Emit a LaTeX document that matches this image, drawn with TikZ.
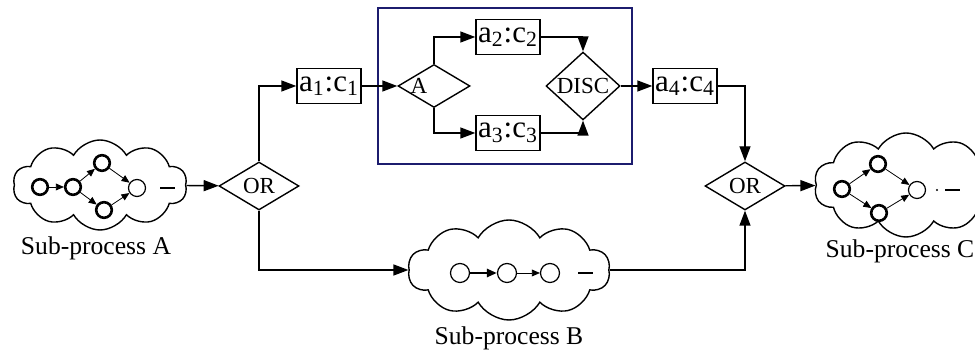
\documentclass[tikz,border=0pt]{standalone}
\usepackage{fontspec}
\setmainfont{Liberation Serif}
\usetikzlibrary{shapes.geometric,shapes.symbols,arrows.meta}
\definecolor{boxnavy}{RGB}{28,28,110}

\begin{document}
\begin{tikzpicture}[x=0.5pt,y=-0.5pt,line width=0.7pt,
  every node/.style={inner sep=0pt},
  flow/.style={-{Triangle[length=7.5pt,width=5.5pt]}},
  thin flow/.style={line width=0.4pt,-{Triangle[length=4pt,width=3.4pt]}},
  task/.style={draw,minimum width=32pt,minimum height=17.5pt,font=\fontsize{15.5}{17}\selectfont},
  gate/.style={draw,diamond,font=\fontsize{11.5}{13}\selectfont},
  proc/.style={draw,cloud,cloud puffs=10,cloud puff arc=120,aspect=2},
  st/.style={draw,circle,minimum size=7.8pt,line width=1.3pt},
  st thin/.style={draw,circle,minimum size=8.5pt,line width=0.6pt},
  caption/.style={font=\fontsize{12.8}{15}\selectfont}]
  \useasboundingbox (0,0) rectangle (975,356);

  % sub-processes
  \node[proc,minimum width=87pt,minimum height=45pt] (clA) at (100,185) {};
  \node[proc,minimum width=101pt,minimum height=50pt] (clB) at (509,270) {};
  \node[proc,minimum width=92pt,minimum height=52pt] (clC) at (906,185) {};
  \node[caption] (capA) at (96,248) {Sub-process A};
  \node[caption] (capB) at (509,338) {Sub-process B};
  \node[caption] (capC) at (900,251) {Sub-process C};

  % gates and tasks
  \node[gate,minimum width=40pt,minimum height=24pt] (orA) at (259,186) {OR};
  \node[gate,minimum width=40pt,minimum height=24pt] (orC) at (745,186) {OR};
  \node[task] (a1) at (329,86) {a\textsubscript{1}:c\textsubscript{1}};
  \node[task] (a2) at (508,37) {a\textsubscript{2}:c\textsubscript{2}};
  \node[task] (a3) at (508,133) {a\textsubscript{3}:c\textsubscript{3}};
  \node[task] (a4) at (685,86) {a\textsubscript{4}:c\textsubscript{4}};
  \node[gate,minimum width=36pt,minimum height=21.5pt] (gA) at (434,86) {};
  \node[font=\fontsize{11.5}{13}\selectfont] (gAtxt) at (419,86) {A};
  \node[gate,minimum width=37pt,minimum height=22.5pt] (disc) at (583,86) {DISC};
  \draw[boxnavy,line width=1pt] (378,8) rectangle (632,164);

  % connectors
  \draw[flow] (clA) -- (orA);
  \draw[flow] (orA.north) |- (a1.west);
  \draw[flow] (orA.south) |- (clB.west);
  \draw[flow] (a1) -- (gA);
  \draw[flow] (gA.north) |- (a2.west);
  \draw[flow] (gA.south) |- (a3.west);
  \draw[flow] (a2.east) -| (disc.north);
  \draw[flow] (a3.east) -| (disc.south);
  \draw[flow] (disc) -- (a4);
  \draw[flow] (a4.east) -| (orC.north);
  \draw[flow] (clB.east) -| (orC.south);
  \draw[flow] (orC) -- (clC);

  % inside A
  \node[st] (nA1) at (40,187) {};
  \node[st] (nA2) at (73,187) {};
  \node[st] (nA3) at (102,163) {};
  \node[st] (nA4) at (104,210) {};
  \node[st thin] (nA5) at (137,188) {};
  \draw[thin flow] (nA1) -- (nA2);
  \draw[thin flow] (nA2) -- (nA3);
  \draw[thin flow] (nA2) -- (nA4);
  \draw[thin flow] (nA3) -- (nA5);
  \draw[thin flow] (nA4) -- (nA5);
  \draw (160,188) -- (175,188);

  % inside B
  \node[st thin,minimum size=9.5pt] (nB1) at (460,273) {};
  \node[st thin,minimum size=9.5pt] (nB2) at (507,273) {};
  \node[st thin,minimum size=9.5pt] (nB3) at (550,273) {};
  \draw[line width=1.3pt,-{Triangle[length=5pt,width=4pt]}] (nB1) -- (nB2);
  \draw[thin flow] (nB2) -- (nB3);
  \draw (578,273) -- (593,273);

  % inside C
  \node[st] (nC1) at (842,189) {};
  \node[st] (nC2) at (878,164) {};
  \node[st] (nC3) at (879,213) {};
  \node[st thin] (nC4) at (917,190) {};
  \draw[thin flow] (nC1) -- (nC2);
  \draw[thin flow] (nC1) -- (nC3);
  \draw[thin flow] (nC2) -- (nC4);
  \draw[thin flow] (nC3) -- (nC4);
  \fill (937,190) circle (0.6pt);
  \draw (945,190) -- (960,190);
\end{tikzpicture}
\end{document}
